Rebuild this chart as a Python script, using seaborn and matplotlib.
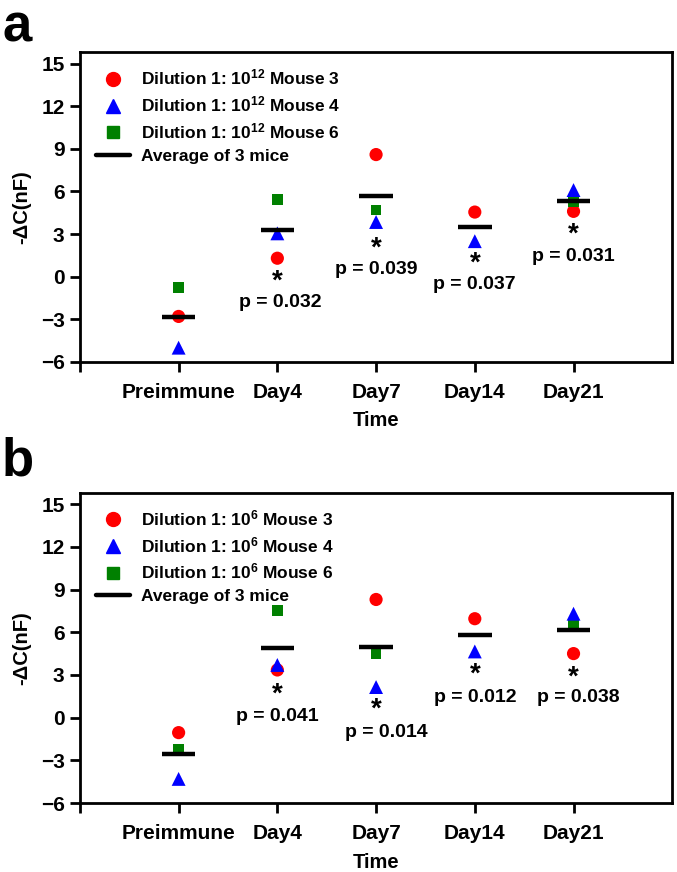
import numpy as np
import pandas as pd
import matplotlib
matplotlib.use("Agg")
import matplotlib.pyplot as plt
import seaborn as sns
from matplotlib.lines import Line2D

# categories
days = ["Preimmune", "Day4", "Day7", "Day14", "Day21"]

# panel a: dilution 1:10^12  (Mouse 6 at Day14 not visible in the figure)
a_mouse3 = [-2.8, 1.3, 8.6, 4.55, 4.6]
a_mouse4 = [-5.0, 3.05, 3.85, 2.5, 6.1]
a_mouse6 = [-0.75, 5.45, 4.7, np.nan, 5.3]
a_pvals = ["", "0.032", "0.039", "0.037", "0.031"]

# panel b: dilution 1:10^6
b_mouse3 = [-1.05, 3.35, 8.3, 6.95, 4.5]
b_mouse4 = [-4.3, 3.7, 2.15, 4.65, 7.3]
b_mouse6 = [-2.2, 7.55, 4.5, np.nan, 6.6]
b_pvals = ["", "0.041", "0.014", "0.012", "0.038"]

# annotation placement (star y, p-text y, p-text x shift)
a_star_y = [None, -0.35, 2.0, 0.9, 2.95]
a_p_y = [None, -1.8, 0.5, -0.55, 1.45]
a_p_dx = [0, 0.03, 0, 0, 0]
b_star_y = [None, 1.65, 0.55, 3.0, 2.8]
b_p_y = [None, 0.1, -1.05, 1.4, 1.4]
b_p_dx = [0, 0, 0.1, 0, 0.05]

sns.set_style("white")
plt.rcParams["font.family"] = ["Liberation Sans", "DejaVu Sans"]
plt.rcParams["font.weight"] = "bold"
plt.rcParams["text.color"] = "black"
plt.rcParams["axes.labelcolor"] = "black"
plt.rcParams["xtick.color"] = "black"
plt.rcParams["ytick.color"] = "black"
plt.rcParams["mathtext.fontset"] = "custom"
plt.rcParams["mathtext.rm"] = "Liberation Sans:bold"
plt.rcParams["mathtext.default"] = "rm"

mice = ["Mouse 3", "Mouse 4", "Mouse 6"]
colors = {"Mouse 3": "#ff0000", "Mouse 4": "#0000ff", "Mouse 6": "#008000"}
markers = {"Mouse 3": "o", "Mouse 4": "^", "Mouse 6": "s"}
msizes = {"Mouse 3": 90, "Mouse 4": 100, "Mouse 6": 60}

fig = plt.figure(figsize=(6.77, 8.72), dpi=100)
ax_a = fig.add_axes([0.118, 0.585, 0.875, 0.355])
ax_b = fig.add_axes([0.118, 0.079, 0.875, 0.356])


def draw_panel(ax, m3, m4, m6, pvals, star_y, p_y, p_dx, power):
    x = np.arange(len(days))
    df = pd.DataFrame({
        "x": np.tile(x, 3),
        "value": list(m3) + list(m4) + list(m6),
        "mouse": np.repeat(mice, len(days)),
    })
    means = df.groupby("x")["value"].mean()
    ax.hlines(means.values, means.index - 0.17, means.index + 0.17,
              colors="black", linewidth=3.2, zorder=3)
    for m in mice:
        sub = df[df["mouse"] == m].dropna()
        sns.scatterplot(data=sub, x="x", y="value", color=colors[m],
                        marker=markers[m], s=msizes[m], edgecolor="none",
                        ax=ax, zorder=2 if m != "Mouse 4" else 2.5, legend=False)

    for i in range(1, len(days)):
        ax.text(i, star_y[i], "*", ha="center", va="center",
                fontsize=20, fontweight="bold")
        ax.text(i + p_dx[i], p_y[i], f"p = {pvals[i]}", ha="center", va="center",
                fontsize=14, fontweight="bold")

    ax.set_xlim(-1, 5)
    ax.set_ylim(-6, 15.8)
    ax.set_xticks([-1] + list(x))
    ax.set_xticklabels([""] + days)
    ax.set_yticks(np.arange(-6, 16, 3))
    ax.tick_params(axis="both", direction="out", length=7, width=2,
                   labelsize=15, bottom=True, left=True)
    ax.tick_params(axis="x", pad=8)
    ax.tick_params(axis="y", pad=4)
    for lab in ax.get_xticklabels() + ax.get_yticklabels():
        lab.set_fontweight("bold")
    for sp in ax.spines.values():
        sp.set_linewidth(2)
        sp.set_color("black")
    ax.set_xlabel("Time", fontsize=14.5, fontweight="bold", labelpad=7)
    ax.set_ylabel("-ΔC(nF)", fontsize=14.5, fontweight="bold")
    ax.yaxis.set_label_coords(-0.082, 0.5)

    handles = [
        Line2D([], [], linestyle="none", marker=markers[m], color=colors[m],
               markersize=10 if m != "Mouse 6" else 8.5)
        for m in mice
    ]
    handles.append(Line2D([], [], color="black", linewidth=3.2))
    labels = [f"Dilution 1: 10$^{{{power}}}$ {m}" for m in mice] + ["Average of 3 mice"]
    ax.legend(handles, labels, loc="upper left", frameon=False, fontsize=12.5,
              handlelength=2.0, handletextpad=0.6, labelspacing=0.4,
              borderaxespad=0.5, bbox_to_anchor=(0.0, 1.0))


draw_panel(ax_a, a_mouse3, a_mouse4, a_mouse6, a_pvals, a_star_y, a_p_y, a_p_dx, 12)
draw_panel(ax_b, b_mouse3, b_mouse4, b_mouse6, b_pvals, b_star_y, b_p_y, b_p_dx, 6)

fig.text(0.003, 0.997, "a", fontsize=38, fontweight="bold", va="top", ha="left")
fig.text(0.003, 0.499, "b", fontsize=38, fontweight="bold", va="top", ha="left")

fig.savefig("out.png", dpi=100)
